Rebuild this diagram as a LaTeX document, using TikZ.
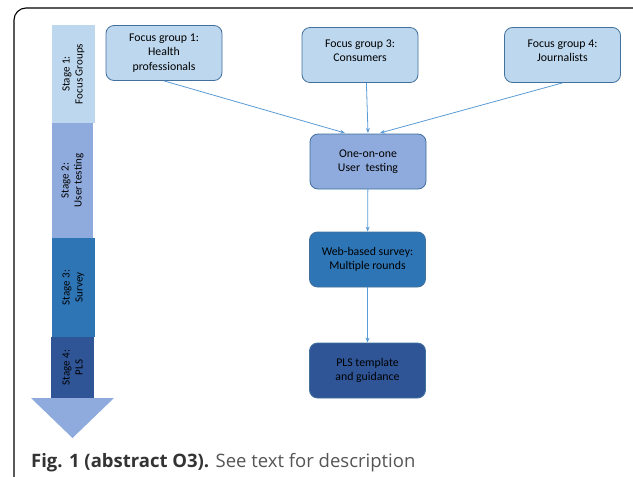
\documentclass[tikz,border=0pt]{standalone}
\usepackage{fontspec}
\setmainfont{Carlito}
\newfontfamily\capfont{Open Sans}
\definecolor{stageA}{HTML}{BDD7EE}
\definecolor{stageB}{HTML}{8FAADC}
\definecolor{stageC}{HTML}{2E75B6}
\definecolor{stageD}{HTML}{2F5597}
\definecolor{boxline}{HTML}{41719C}
\definecolor{flowline}{HTML}{5B9BD5}
\tikzset{
  stepbox/.style={draw=boxline,line width=0.8pt,rounded corners=8pt,minimum width=116pt,minimum height=55pt,align=center,font=\fontsize{11.8}{14.6}\selectfont},
  stagebar/.style={draw=none,rotate=90,minimum height=43pt,align=center,font=\fontsize{11}{13}\selectfont},
  flow/.style={draw=flowline,line width=0.8pt,-{Stealth[length=5pt,width=4pt]}}
}
\usetikzlibrary{arrows.meta}
\begin{document}
\begin{tikzpicture}[x=1pt,y=-1pt]
    \useasboundingbox (0,0) rectangle (633,477);
    \begin{scope}
        \clip (0,0) rectangle (633,477);
        \draw[line width=1.1pt,rounded corners=12pt] (14,8) rectangle (650,495);
    \end{scope}

    % stages down the left
    \node[stagebar,fill=stageA,minimum width=98pt] (S1) at (73.5,74) {Stage 1:\\Focus Groups};
    \node[stagebar,fill=stageB,minimum width=115pt,minimum height=41pt] (S2) at (72.5,180.5) {Stage 2:\\User testing};
    \node[stagebar,fill=stageC,minimum width=99pt] (S3) at (73.5,287.5) {Stage 3:\\Survey};
    \node[stagebar,fill=stageD,minimum width=61pt] (S4) at (72.5,367.5) {Stage 4:\\PLS};
    \fill[stageB] (31,398) -- (114,398) -- (72.5,438) -- cycle;

    % boxes
    \node[stepbox,fill=stageA] (F1) at (164,53) {Focus group 1:\\Health\\professionals};
    \node[stepbox,fill=stageA] (F3) at (360,55) {Focus group 3:\\Consumers\vphantom{p}\\[-6pt]};
    \node[stepbox,fill=stageA] (F4) at (562.5,55) {Focus group 4:\\Journalists\vphantom{p}\\[-6pt]};
    \node[stepbox,fill=stageB] (U) at (368,161.5) {One-on-one\\User\ \ testing};
    \node[stepbox,fill=stageC] (W) at (367.5,259.5) {Web-based survey:\\Multiple rounds};
    \node[stepbox,fill=stageD] (P) at (367.5,370.5) {PLS template\\and guidance};

    \path[flow] (F1.south) -- (345,133);
    \path[flow] (F3.south east) ++(-52,0) -- (368,133);
    \path[flow] (F4.south) -- (380,133);
    \path[flow] (U) -- (W);
    \path[flow] (W) -- (P);

    \node[anchor=base west,inner sep=0pt,font=\capfont\fontsize{18.5}{21}\selectfont] (cap) at (31,467)
        {\textcolor[HTML]{333333}{\bfseries Fig. 1 (abstract O3).} \textcolor[HTML]{555555}{See text for description}};
\end{tikzpicture}
\end{document}
